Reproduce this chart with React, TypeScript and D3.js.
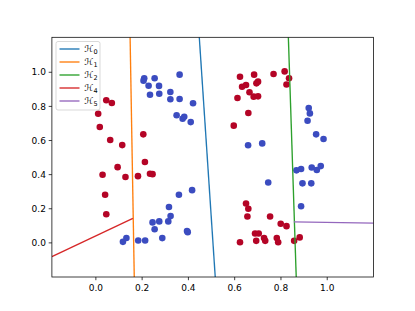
import * as d3 from "d3";

const W = 415;
const H = 311;
const margin = { left: 51.9, right: 415 - 373.5, top: 37.3, bottom: 311 - 277 };

const blueColor = "#3b4cc0";
const redColor = "#b40426";

// class 0 points (blue)
const bluePts: [number, number][] = [
  [0.209, 0.965], [0.206, 0.951], [0.254, 0.965], [0.362, 0.986], [0.228, 0.921],
  [0.273, 0.92], [0.234, 0.868], [0.274, 0.874], [0.322, 0.884], [0.322, 0.842],
  [0.362, 0.843], [0.42, 0.818], [0.349, 0.748], [0.375, 0.728], [0.382, 0.739],
  [0.41, 0.708],
  [0.416, 0.309], [0.359, 0.282], [0.316, 0.21], [0.323, 0.157], [0.313, 0.126],
  [0.274, 0.126], [0.245, 0.12], [0.254, 0.08], [0.394, 0.069], [0.397, 0.063],
  [0.287, 0.028], [0.132, 0.029], [0.117, 0.006], [0.183, 0.014], [0.213, 0.014],
  [0.92, 0.79], [0.925, 0.759], [0.915, 0.716], [0.952, 0.636], [0.984, 0.609],
  [0.658, 0.572], [0.719, 0.583], [0.867, 0.425], [0.887, 0.433], [0.933, 0.442],
  [0.955, 0.427], [0.972, 0.45], [0.745, 0.354], [0.893, 0.349], [0.931, 0.349],
  [0.887, 0.215],
];

// class 1 points (red)
const redPts: [number, number][] = [
  [0.045, 0.836], [0.069, 0.82], [0.01, 0.757], [0.017, 0.679], [0.062, 0.603],
  [0.114, 0.573], [0.205, 0.636], [0.212, 0.474], [0.094, 0.444], [0.029, 0.399],
  [0.128, 0.386], [0.182, 0.391], [0.234, 0.405], [0.245, 0.403], [0.04, 0.282],
  [0.045, 0.168],
  [0.623, 0.974], [0.684, 0.986], [0.768, 0.99], [0.816, 1.005], [0.835, 0.965],
  [0.824, 0.928], [0.632, 0.915], [0.649, 0.925], [0.694, 0.935], [0.701, 0.945],
  [0.664, 0.883], [0.612, 0.849], [0.682, 0.857], [0.701, 0.859], [0.659, 0.761],
  [0.596, 0.687],
  [0.649, 0.231], [0.659, 0.2], [0.655, 0.155], [0.753, 0.155], [0.799, 0.112],
  [0.824, 0.098], [0.688, 0.055], [0.704, 0.055], [0.727, 0.029], [0.732, 0.012],
  [0.782, 0.028], [0.788, 0.004], [0.623, 0.004], [0.693, 0.012], [0.857, 0.012],
  [0.881, 0.032],
];

// hyperplane segments
const lineNames = ["0", "1", "2", "4", "5"];
const lineColors = ["#1f77b4", "#ff7f0e", "#2ca02c", "#d62728", "#9467bd"];
const lineSegs: [number, number][][] = [
  [[0.447, 1.205], [0.516, -0.2]],
  [[0.148, 1.205], [0.166, -0.2]],
  [[0.832, 1.205], [0.866, -0.2]],
  [[-0.19, -0.081], [0.16, 0.143]],
  [[0.856, 0.123], [1.2, 0.116]],
];

const xTicks = [0.0, 0.2, 0.4, 0.6, 0.8, 1.0];
const yTicks = [0.0, 0.2, 0.4, 0.6, 0.8, 1.0];

export default function App() {
  const x = d3.scaleLinear().domain([-0.19, 1.2]).range([margin.left, W - margin.right]);
  const y = d3.scaleLinear().domain([-0.2, 1.205]).range([H - margin.bottom, margin.top]);
  const line = d3.line<[number, number]>().x((d) => x(d[0])).y((d) => y(d[1]));
  const font = "DejaVu Sans, sans-serif";
  const x0 = margin.left;
  const x1 = W - margin.right;
  const y0 = margin.top;
  const y1 = H - margin.bottom;

  return (
    <svg
      width={W}
      height={H}
      style={{ position: "absolute", left: 0, top: 0, background: "#fff" }}
      fontFamily={font}
    >
      <defs>
        <clipPath id="plot-clip">
          <rect x={x0} y={y0} width={x1 - x0} height={y1 - y0} />
        </clipPath>
      </defs>

      <g>
        {bluePts.map((d, i) => (
          <circle key={"b" + i} cx={x(d[0])} cy={y(d[1])} r={3.3} fill={blueColor} />
        ))}
        {redPts.map((d, i) => (
          <circle key={"r" + i} cx={x(d[0])} cy={y(d[1])} r={3.3} fill={redColor} />
        ))}
      </g>

      <g clipPath="url(#plot-clip)">
        {lineSegs.map((seg, i) => (
          <path key={i} d={line(seg) || ""} fill="none" stroke={lineColors[i]} strokeWidth={1.35} />
        ))}
      </g>

      {/* frame */}
      <rect x={x0} y={y0} width={x1 - x0} height={y1 - y0} fill="none" stroke="#000" strokeWidth={0.75} />

      {/* x axis */}
      {xTicks.map((t) => (
        <g key={"x" + t} transform={`translate(${x(t)},${y1})`}>
          <line y2={3.2} stroke="#000" strokeWidth={0.75} />
          <text y={14} textAnchor="middle" fontSize={9} fill="#000">
            {t.toFixed(1)}
          </text>
        </g>
      ))}

      {/* y axis */}
      {yTicks.map((t) => (
        <g key={"y" + t} transform={`translate(${x0},${y(t)})`}>
          <line x2={-3.2} stroke="#000" strokeWidth={0.75} />
          <text x={-6} dy="0.35em" textAnchor="end" fontSize={9} fill="#000">
            {t.toFixed(1)}
          </text>
        </g>
      ))}

      {/* legend */}
      <g>
        <rect x={56} y={41.5} width={44} height={68.5} rx={2} fill="#fff" fillOpacity={0.8} stroke="#ccc" strokeWidth={0.75} />
        {lineNames.map((n, i) => {
          const ly = 49 + i * 13;
          return (
            <g key={"l" + n}>
              <line x1={59.5} x2={79.5} y1={ly} y2={ly} stroke={lineColors[i]} strokeWidth={1.35} />
              <text x={84.5} y={ly} dy="0.35em" fontSize={9} fill="#000" fontStyle="italic">
                ℋ
                <tspan fontSize={6.5} dy="2" fontStyle="normal">{n}</tspan>
              </text>
            </g>
          );
        })}
      </g>
    </svg>
  );
}
